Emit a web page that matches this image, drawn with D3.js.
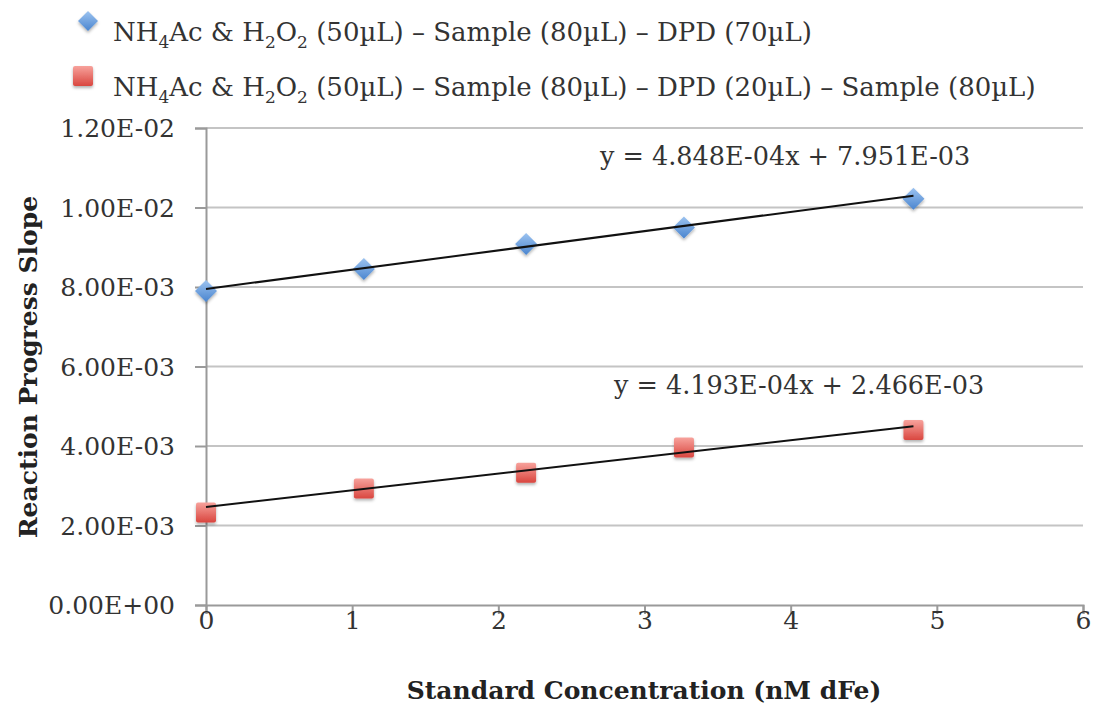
<!DOCTYPE html>
<html><head><meta charset="utf-8">
<script src="https://cdn.jsdelivr.net/npm/d3@7"></script>
<style>body{margin:0;background:#fff}svg{display:block}</style>
</head><body>
<script>
const xValues = [0, 1.08, 2.19, 3.27, 4.84];
const seriesA = [0.00790, 0.00845, 0.00908, 0.00950, 0.01022];
const seriesB = [0.00233, 0.00293, 0.00333, 0.00396, 0.00440];
const fitA = {m: 4.848e-4, b: 7.951e-3, label: "y = 4.848E-04x + 7.951E-03"};
const fitB = {m: 4.193e-4, b: 2.466e-3, label: "y = 4.193E-04x + 2.466E-03"};
const xTicks = [0,1,2,3,4,5,6];
const yTicks = [0,0.002,0.004,0.006,0.008,0.010,0.012];
const yTickLabels = ["0.00E+00","2.00E-03","4.00E-03","6.00E-03","8.00E-03","1.00E-02","1.20E-02"];
const legendA = ["NH","4","Ac & H","2","O","2"," (50µL) – Sample (80µL) – DPD (70µL)"];
const legendB = ["NH","4","Ac & H","2","O","2"," (50µL) – Sample (80µL) – DPD (20µL) – Sample (80µL)"];
const xTitle = "Standard Concentration (nM dFe)";
const yTitle = "Reaction Progress Slope";

const W = 1096, H = 707;
const FONT = "'DejaVu Serif', 'Liberation Serif', serif";
const svg = d3.select("body").append("svg").attr("width", W).attr("height", H);
const defs = svg.append("defs");
const gA = defs.append("linearGradient").attr("id","gA").attr("x1",0).attr("y1",0).attr("x2",0).attr("y2",1);
gA.append("stop").attr("offset","0%").attr("stop-color","#9cc3f0");
gA.append("stop").attr("offset","100%").attr("stop-color","#4a85cf");
const gB = defs.append("linearGradient").attr("id","gB").attr("x1",0).attr("y1",0).attr("x2",0).attr("y2",1);
gB.append("stop").attr("offset","0%").attr("stop-color","#f7a29c");
gB.append("stop").attr("offset","100%").attr("stop-color","#d9463f");
const sh = defs.append("filter").attr("id","sh").attr("x","-50%").attr("y","-50%").attr("width","200%").attr("height","200%");
sh.append("feDropShadow").attr("dx",0).attr("dy",2).attr("stdDeviation",1.5).attr("flood-color","#000").attr("flood-opacity",0.3);

const x = d3.scaleLinear().domain([0,6]).range([206,1083]);
const y = d3.scaleLinear().domain([0,0.012]).range([605,128]);

// gridlines
svg.append("g").selectAll("line").data(yTicks.slice(1)).join("line")
  .attr("x1", x(0)).attr("x2", x(6)).attr("y1", d=>y(d)).attr("y2", d=>y(d))
  .attr("stroke","#c4c4c4").attr("stroke-width",2);

// y axis
const yAxis = d3.axisLeft(y).tickValues(yTicks).tickSize(11).tickFormat((d,i)=>yTickLabels[i]);
const gy = svg.append("g").attr("transform",`translate(${x(0)},0)`).call(yAxis);
gy.select(".domain").attr("stroke","#9a9a9a").attr("stroke-width",2);
gy.selectAll(".tick line").attr("stroke","#9a9a9a").attr("stroke-width",2);
gy.selectAll(".tick text").attr("font-family",FONT).attr("font-size",25).attr("fill","#333").attr("x",-31).attr("dy","0.35em");

// x axis
const xAxis = d3.axisBottom(x).tickValues(xTicks).tickSize(9).tickFormat(d3.format("d"));
const gx = svg.append("g").attr("transform",`translate(0,${y(0)})`).call(xAxis);
gx.select(".domain").attr("stroke","#9a9a9a").attr("stroke-width",2);
gx.selectAll(".tick line").attr("stroke","#9a9a9a").attr("stroke-width",2);
gx.selectAll(".tick text").attr("font-family",FONT).attr("font-size",25).attr("fill","#333").attr("y",6).attr("dy","0.71em");

// trendlines
function trend(f){
  const x0 = d3.min(xValues), x1 = d3.max(xValues);
  svg.append("line").attr("x1",x(x0)).attr("y1",y(f.m*x0+f.b)).attr("x2",x(x1)).attr("y2",y(f.m*x1+f.b))
    .attr("stroke","#111").attr("stroke-width",2);
}

// series A diamonds
const dsize = 11;
svg.append("g").selectAll("path").data(xValues.map((v,i)=>[v,seriesA[i]])).join("path")
  .attr("d", d=>`M${x(d[0])},${y(d[1])-dsize} L${x(d[0])+dsize},${y(d[1])} L${x(d[0])},${y(d[1])+dsize} L${x(d[0])-dsize},${y(d[1])} Z`)
  .attr("fill","url(#gA)").attr("filter","url(#sh)");
// series B squares
const s = 10;
svg.append("g").selectAll("rect").data(xValues.map((v,i)=>[v,seriesB[i]])).join("rect")
  .attr("x", d=>x(d[0])-s).attr("y", d=>y(d[1])-s).attr("width",2*s).attr("height",2*s).attr("rx",2)
  .attr("fill","url(#gB)").attr("filter","url(#sh)");

trend(fitA); trend(fitB);

// equations
svg.append("text").attr("x",600).attr("y",165).attr("font-family",FONT).attr("font-size",25.5).attr("fill","#333").text(fitA.label);
svg.append("text").attr("x",614).attr("y",394).attr("font-family",FONT).attr("font-size",25.5).attr("fill","#333").text(fitB.label);

// legend
function legendText(parts, yb){
  const t = svg.append("text").attr("x",113).attr("y",yb).attr("font-family",FONT).attr("font-size",26).attr("fill","#333");
  parts.forEach((p,i)=>{
    const sub = (i===1||i===3||i===5);
    const ts = t.append("tspan").text(p);
    if(sub){ ts.attr("font-size",17).attr("dy",7); }
    else if(i>0){ ts.attr("dy",-7); }
  });
}
svg.append("path").attr("d",`M88,11 L98,21 L88,31 L78,21 Z`).attr("fill","url(#gA)").attr("filter","url(#sh)");
legendText(legendA, 41);
svg.append("rect").attr("x",73).attr("y",66).attr("width",20).attr("height",20).attr("rx",2).attr("fill","url(#gB)").attr("filter","url(#sh)");
legendText(legendB, 96);

// titles
svg.append("text").attr("x",644).attr("y",699).attr("text-anchor","middle").attr("font-family",FONT)
  .attr("font-size",25).attr("font-weight","bold").attr("fill","#222").text(xTitle);
svg.append("text").attr("transform","translate(37,367) rotate(-90)").attr("text-anchor","middle").attr("font-family",FONT)
  .attr("font-size",25).attr("font-weight","bold").attr("fill","#222").text(yTitle);
</script>
</body></html>
